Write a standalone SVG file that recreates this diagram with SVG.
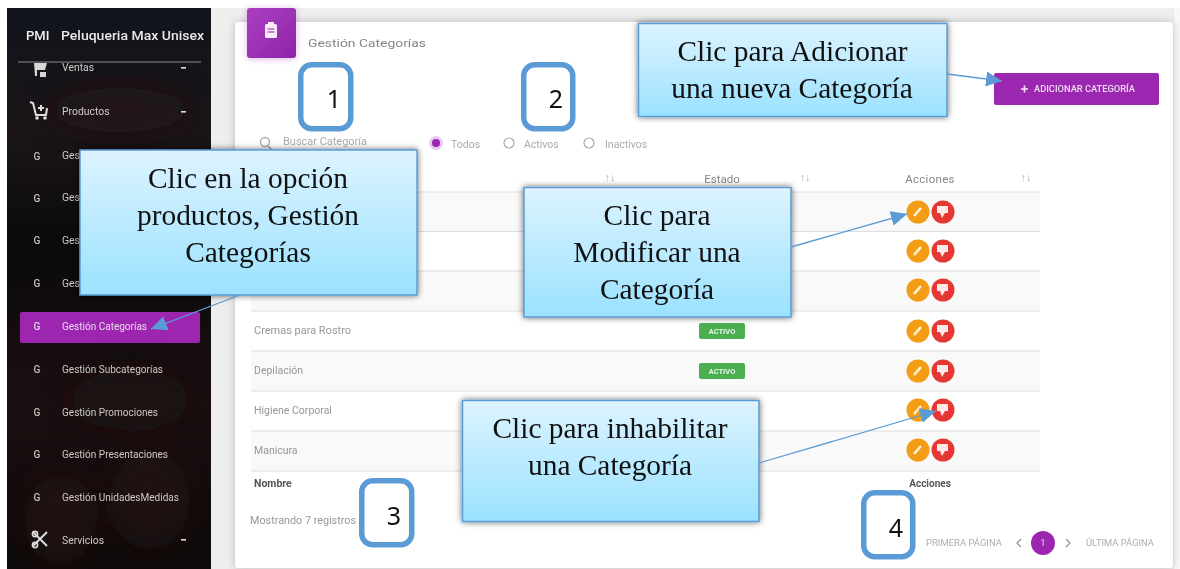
<svg xmlns="http://www.w3.org/2000/svg" width="1180" height="569" viewBox="0 0 1180 569">
<style>
text{font-family:Roboto,"Liberation Sans",sans-serif}
.side{font-size:10.4px;fill:#cfcac8}
.g{font-size:10px;fill:#c4c0be;font-weight:500;text-anchor:middle}
.cell{font-size:10.5px;fill:#979797}
.head{font-size:11.5px;fill:#858585}
.pg{font-size:8.4px;fill:#adadad}
.sort{font-size:11px;fill:#b5b5b5;text-anchor:middle}
.rl{stroke:#dedede;stroke-width:1.2}
.call{fill:url(#cg);stroke:#5b9bd5;stroke-width:1.5;filter:url(#sh)}
.ct{font-family:"Liberation Serif",serif;font-size:29.4px;fill:#111;text-anchor:middle}
.box{fill:#fff;stroke:#5b9bd5;stroke-width:5.5}
.num{font-family:"Noto Sans",sans-serif;font-size:25px;fill:#111;text-anchor:middle}
.bad{fill:#4caf50}
.badt{font-size:7.5px;font-weight:700;fill:#e8f5e9;text-anchor:middle}
.con{fill:none;stroke:#5b9bd5;stroke-width:1.3;marker-end:url(#ah)}
</style>
<defs>
<linearGradient id="cg" x1="0" y1="0" x2="0" y2="1"><stop offset="0" stop-color="#ddf3ff"/><stop offset="1" stop-color="#9ae2ff"/></linearGradient>
<linearGradient id="sb" x1="0" y1="0" x2="0" y2="1"><stop offset="0" stop-color="#11141c"/><stop offset=".22" stop-color="#1b1518"/><stop offset=".42" stop-color="#0b0a0b"/><stop offset=".7" stop-color="#1a0f10"/><stop offset="1" stop-color="#0e0a0a"/></linearGradient>
<linearGradient id="tile" x1="0" y1="0" x2="1" y2="1"><stop offset="0" stop-color="#ab3fc0"/><stop offset="1" stop-color="#8e24aa"/></linearGradient>
<clipPath id="sbclip"><rect x="7" y="8" width="204" height="561"/></clipPath>
<filter id="sh" x="-10%" y="-10%" width="120%" height="120%"><feDropShadow dx="0" dy="0" stdDeviation="3" flood-color="#000" flood-opacity=".6"/></filter>
<filter id="cs" x="-5%" y="-5%" width="110%" height="110%"><feDropShadow dx="0" dy="0" stdDeviation="4" flood-color="#000" flood-opacity=".22"/></filter>
<filter id="ts" x="-30%" y="-30%" width="160%" height="160%"><feDropShadow dx="0" dy="1" stdDeviation="3" flood-color="#9c27b0" flood-opacity=".35"/></filter>
<filter id="bl" x="-30%" y="-30%" width="160%" height="160%"><feGaussianBlur stdDeviation="14"/></filter>
<filter id="soft"><feGaussianBlur stdDeviation=".42"/></filter>
<marker id="ahb" viewBox="0 0 10 10" refX="10" refY="5" markerWidth="16" markerHeight="15" markerUnits="userSpaceOnUse" orient="auto" preserveAspectRatio="none"><path d="M0 0L10 5L0 10Z" fill="#5b9bd5"/></marker>
<g id="acts">
<circle cx="918" cy="0" r="11.5" fill="#f39c12"/>
<path d="M914 4L921 -4" stroke="#fff3d8" stroke-width="2.6"/>
<circle cx="943" cy="0" r="11.5" fill="#e53935"/>
<path d="M937 -6H948V1H945L942 6L940 1H937Z" fill="#fde9e8"/>
</g>
</defs>

<rect width="1180" height="569" fill="#fff"/>
<rect x="211" y="8" width="969" height="561" fill="#eeeeee"/>
<rect x="1174" y="8" width="6" height="561" fill="#f8f8f8"/>

<g id="sidebar">
<rect x="7" y="8" width="204" height="561" fill="url(#sb)"/>
<g clip-path="url(#sbclip)"><g filter="url(#bl)">
<ellipse cx="120" cy="110" rx="70" ry="22" fill="#2a1c1c" opacity=".5"/>
<ellipse cx="60" cy="520" rx="35" ry="45" fill="#3a1512" opacity=".35"/>
<ellipse cx="150" cy="500" rx="40" ry="50" fill="#361816" opacity=".35"/>
<ellipse cx="130" cy="400" rx="60" ry="30" fill="#241416" opacity=".5"/>
</g></g>
<g filter="url(#soft)">
<text x="26" y="40" font-size="13" font-weight="500" fill="#f2f2f2">PMI</text>
<text x="61" y="40" font-size="13" font-weight="500" fill="#e8e8e8" textLength="143" lengthAdjust="spacingAndGlyphs">Peluqueria Max Unisex</text>
<rect x="18" y="61.500" width="183" height="1" fill="#8a8a8c"/>
<rect x="20" y="312" width="180" height="31" rx="2" fill="#9c27b0"/>
<g id="it-ventas"><path d="M34 63H47L45 70H37V76H35ZM40 72H46V77H40Z" fill="#d6d6d6"/><text class="side" x="62" y="71">Ventas</text><rect x="181" y="67" width="5" height="1.6" fill="#ddd"/></g>
<g id="it-productos"><path d="M30 102L33 103L36 115H46L47 108M38 108H44M41 105V111" fill="none" stroke="#dedede" stroke-width="2"/><circle cx="37" cy="118" r="1.8" fill="#dedede"/><circle cx="45" cy="118" r="1.8" fill="#dedede"/><text class="side" x="62" y="115">Productos</text><rect x="181" y="111" width="5" height="1.6" fill="#ddd"/></g>
<g id="it-1"><text class="g" x="37" y="160">G</text><text class="side" x="62" y="159">Ges</text></g>
<g id="it-2"><text class="g" x="37" y="202">G</text><text class="side" x="62" y="201">Ges</text></g>
<g id="it-3"><text class="g" x="37" y="244">G</text><text class="side" x="62" y="244">Ges</text></g>
<g id="it-4"><text class="g" x="37" y="287">G</text><text class="side" x="62" y="287">Ges</text></g>
<g id="it-cat"><text class="g" x="37" y="330" style="fill:#e8d0ee">G</text><text class="side" x="62" y="330" style="fill:#ecd9f0" textLength="85" lengthAdjust="spacingAndGlyphs">Gestión Categorías</text></g>
<g id="it-sub"><text class="g" x="37" y="373">G</text><text class="side" x="62" y="373" textLength="101" lengthAdjust="spacingAndGlyphs">Gestión Subcategorías</text></g>
<g id="it-prom"><text class="g" x="37" y="416">G</text><text class="side" x="62" y="416" textLength="96" lengthAdjust="spacingAndGlyphs">Gestión Promociones</text></g>
<g id="it-pres"><text class="g" x="37" y="458">G</text><text class="side" x="62" y="458" textLength="106" lengthAdjust="spacingAndGlyphs">Gestión Presentaciones</text></g>
<g id="it-uni"><text class="g" x="37" y="501">G</text><text class="side" x="62" y="501" textLength="117" lengthAdjust="spacingAndGlyphs">Gestión UnidadesMedidas</text></g>
<g id="it-serv"><path d="M33 532L47 546M47 532L33 546" stroke="#dcdcdc" stroke-width="2"/><circle cx="35" cy="534" r="2.6" fill="none" stroke="#dcdcdc" stroke-width="1.6"/><circle cx="35" cy="545" r="2.6" fill="none" stroke="#dcdcdc" stroke-width="1.6"/><text class="side" x="62" y="544">Servicios</text><rect x="181" y="539" width="5" height="1.6" fill="#ddd"/></g>
</g>
</g>

<g id="card">
<rect x="235" y="22" width="938" height="546" rx="4" fill="#fff" filter="url(#cs)"/>
<rect x="251" y="192" width="789" height="40" fill="#f9f9f9"/>
<rect x="251" y="271" width="789" height="40" fill="#f9f9f9"/>
<rect x="251" y="351" width="789" height="40" fill="#f9f9f9"/>
<rect x="251" y="431" width="789" height="40" fill="#f9f9f9"/>
<g>
<line class="rl" x1="251" y1="192" x2="1040" y2="192"/><line class="rl" x1="251" y1="231.500" x2="1040" y2="231.500"/><line class="rl" x1="251" y1="271" x2="1040" y2="271"/><line class="rl" x1="251" y1="311" x2="1040" y2="311"/><line class="rl" x1="251" y1="351" x2="1040" y2="351"/><line class="rl" x1="251" y1="391" x2="1040" y2="391"/><line class="rl" x1="251" y1="431" x2="1040" y2="431"/><line class="rl" x1="251" y1="471" x2="1040" y2="471"/>
</g>
<g id="title-tile"><rect x="247" y="8" width="49" height="50" rx="3" fill="url(#tile)" filter="url(#ts)"/><rect x="265" y="24" width="12" height="14" rx="1.500" fill="#f6ecf8"/><rect x="268" y="22" width="6" height="3" fill="#f6ecf8"/><path d="M267.500 29H274.500M267.500 32H274.500" stroke="#9c27b0" stroke-width="1"/></g>
<g filter="url(#soft)">
<text class="head" x="308" y="47" font-size="12.500" textLength="118" lengthAdjust="spacingAndGlyphs">Gestión Categorías</text>
<g id="search"><circle cx="265" cy="142" r="4.500" fill="none" stroke="#aaa" stroke-width="1.400"/><path d="M268 146L272 150" stroke="#aaa" stroke-width="1.600"/><text class="cell" x="283" y="145" style="fill:#aaa" textLength="84" lengthAdjust="spacingAndGlyphs">Buscar Categoría</text></g>
<g id="radios">
<circle cx="436" cy="143" r="7" fill="#e9c9ef"/><circle cx="436" cy="143" r="4" fill="#9c27b0"/><text class="cell" x="451" y="148" style="fill:#aaa">Todos</text>
<circle cx="509" cy="143" r="5" fill="none" stroke="#aaa" stroke-width="1.200"/><text class="cell" x="524" y="148" style="fill:#aaa">Activos</text>
<circle cx="589" cy="143" r="5" fill="none" stroke="#aaa" stroke-width="1.200"/><text class="cell" x="605" y="148" style="fill:#aaa">Inactivos</text>
</g>
<text class="head" x="722" y="183" text-anchor="middle">Estado</text>
<text class="head" x="930" y="183" text-anchor="middle" letter-spacing=".3">Acciones</text>
<text class="sort" x="610" y="181">↑↓</text><text class="sort" x="805" y="181">↑↓</text><text class="sort" x="1026" y="181">↑↓</text>
<text class="cell" x="254" y="334" textLength="97" lengthAdjust="spacingAndGlyphs">Cremas para Rostro</text>
<text class="cell" x="254" y="374">Depilación</text>
<text class="cell" x="254" y="414">Higiene Corporal</text>
<text class="cell" x="254" y="454">Manicura</text>
<text x="254" y="487" font-size="10.500" font-weight="700" fill="#555">Nombre</text>
<text x="930" y="487" font-size="10" font-weight="700" fill="#555" text-anchor="middle">Acciones</text>
<text class="cell" x="250" y="524" textLength="106" lengthAdjust="spacingAndGlyphs">Mostrando 7 registros</text>
<g id="badges"><rect class="bad" x="699" y="323" width="46" height="16" rx="2"/><text class="badt" x="722" y="334">ACTIVO</text><rect class="bad" x="699" y="363" width="46" height="16" rx="2"/><text class="badt" x="722" y="374">ACTIVO</text></g>
<use href="#acts" y="212"/><use href="#acts" y="251"/><use href="#acts" y="290"/><use href="#acts" y="331"/><use href="#acts" y="371"/><use href="#acts" y="410"/><use href="#acts" y="450"/>
<g id="pager">
<text class="pg" x="926" y="546" textLength="76" lengthAdjust="spacingAndGlyphs">PRIMERA PÁGINA</text>
<path d="M1021 539L1017 543L1021 547M1066 539L1070 543L1066 547" fill="none" stroke="#999" stroke-width="1.400"/>
<circle cx="1043" cy="543" r="12" fill="#9c27b0"/><text x="1043" y="546" font-size="8.500" fill="#e8cfee" text-anchor="middle">1</text>
<text class="pg" x="1086" y="546" textLength="68" lengthAdjust="spacingAndGlyphs">ÚLTIMA PÁGINA</text>
</g>
</g>
<g id="btn-adicionar"><rect x="994" y="73" width="165" height="32" rx="2" fill="#9c27b0"/><g filter="url(#soft)"><path d="M1021 89H1028M1024.500 85.500V92.500" stroke="#f3e3f6" stroke-width="1.700"/><text x="1034" y="92" font-size="8.500" font-weight="500" fill="#eedcf2" textLength="101" lengthAdjust="spacingAndGlyphs">ADICIONAR CATEGORÍA</text></g></g>
</g>

<g id="n1"><rect class="box" x="300.750" y="64.750" width="50" height="64" rx="11"/><text class="num" x="334" y="108">1</text></g>
<g id="n2"><rect class="box" x="523.750" y="64.750" width="49" height="64" rx="11"/><text class="num" x="556" y="108">2</text></g>
<g id="n3"><rect class="box" x="361.750" y="480.750" width="50" height="64" rx="11"/><text class="num" x="394" y="525">3</text></g>
<g id="n4"><rect class="box" x="863.750" y="492.750" width="49" height="64" rx="11"/><text class="num" x="896" y="537">4</text></g>

<g id="c-adicionar"><rect class="call" x="638.500" y="23.500" width="308.500" height="93"/><text class="ct" x="792.500" y="61">Clic para Adicionar</text><text class="ct" x="792" y="98">una nueva Categoría</text></g>
<g id="c-productos"><rect class="call" x="80" y="150" width="337" height="145"/><text class="ct" x="248" y="188">Clic en la opción</text><text class="ct" x="248" y="225">productos, Gestión</text><text class="ct" x="248" y="262">Categorías</text></g>
<g id="c-modificar"><rect class="call" x="524" y="187.500" width="267" height="129.500"/><text class="ct" x="657" y="225">Clic para</text><text class="ct" x="657" y="262">Modificar una</text><text class="ct" x="657" y="299">Categoría</text></g>
<g id="c-inhabilitar"><rect class="call" x="462.500" y="400.500" width="296.500" height="121"/><text class="ct" x="610" y="438">Clic para inhabilitar</text><text class="ct" x="610" y="475">una Categoría</text></g>

<g id="connectors">
<path class="con" style="marker-end:url(#ahb)" d="M947 74L1002 81"/>
<path class="con" style="marker-end:url(#ahb)" d="M791 247L907 214"/>
<path class="con" style="marker-end:url(#ahb)" d="M759 463L936 411"/>
<path class="con" style="marker-end:url(#ahb)" d="M240 295L151 329"/>
</g>
</svg>
